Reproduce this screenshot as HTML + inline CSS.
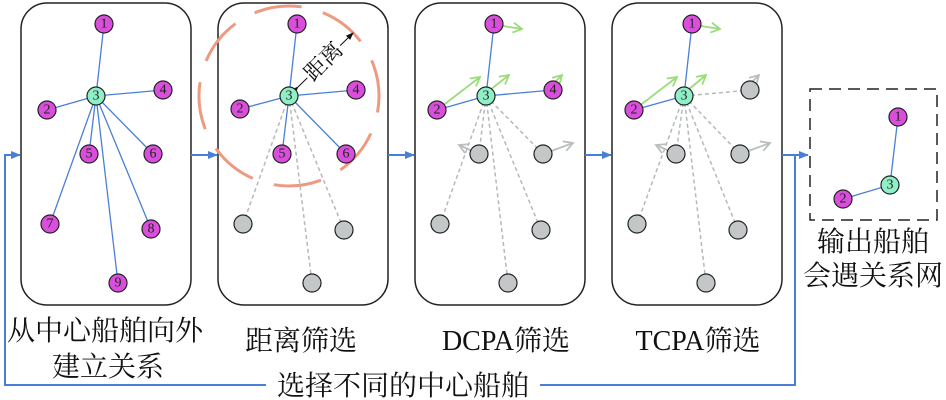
<!DOCTYPE html>
<html><head><meta charset="utf-8"><style>
html,body{margin:0;padding:0;background:#fff;}
svg{display:block;}
text{font-family:"Liberation Serif","Noto Serif CJK SC",serif;}
.n{font-size:14px;text-anchor:middle;dominant-baseline:central;fill:#222;}
.L{font-size:28px;text-anchor:middle;fill:#111;}
</style></head><body>
<svg width="946" height="400" viewBox="0 0 946 400" xmlns="http://www.w3.org/2000/svg">
<defs>
<marker id="ba" markerWidth="10" markerHeight="10" refX="9" refY="5" orient="auto" markerUnits="userSpaceOnUse"><path d="M0,1 L10,5 L0,9 Z" fill="#4a7fd8"/></marker>
<marker id="ga" markerWidth="12" markerHeight="12" refX="10" refY="6" orient="auto" markerUnits="userSpaceOnUse"><path d="M1,1 L10,6 L1,11" fill="none" stroke="#9bdc7a" stroke-width="1.8"/></marker>
<marker id="ya" markerWidth="12" markerHeight="12" refX="10" refY="6" orient="auto" markerUnits="userSpaceOnUse"><path d="M1,1 L10,6 L1,11" fill="none" stroke="#b9bebe" stroke-width="1.8"/></marker>
<marker id="ka" markerWidth="8" markerHeight="8" refX="7" refY="4" orient="auto" markerUnits="userSpaceOnUse"><path d="M0,1 L8,4 L0,7 Z" fill="#111"/></marker>
</defs>

<g fill="none" stroke="#222" stroke-width="1.5">
<rect x="21" y="3" width="170" height="302" rx="26"/>
<rect x="218" y="3" width="170" height="302" rx="26"/>
<rect x="415" y="3" width="170" height="302" rx="26"/>
<rect x="612" y="3" width="170" height="302" rx="26"/>
<rect x="810" y="89" width="127" height="131" stroke-dasharray="12,7"/>
</g>

<g stroke="#4a7fd8" stroke-width="2" fill="none">
<line x1="191" y1="155" x2="217" y2="155" marker-end="url(#ba)"/>
<line x1="388" y1="155" x2="414" y2="155" marker-end="url(#ba)"/>
<line x1="585" y1="155" x2="611" y2="155" marker-end="url(#ba)"/>
<line x1="782" y1="155" x2="808" y2="155" marker-end="url(#ba)"/>
<polyline points="795,155 795,385 5,385 5,155 20,155" marker-end="url(#ba)"/>
</g>

<g stroke="#4a7fd8" stroke-width="1.3">
<line x1="96" y1="96" x2="104" y2="24"/><line x1="96" y1="96" x2="47" y2="110"/>
<line x1="96" y1="96" x2="163" y2="90"/><line x1="96" y1="96" x2="89" y2="154"/>
<line x1="96" y1="96" x2="153" y2="154"/><line x1="96" y1="96" x2="50" y2="224"/>
<line x1="96" y1="96" x2="151" y2="229"/><line x1="96" y1="96" x2="118" y2="283"/>
</g>
<g stroke="#222" stroke-width="1.2" fill="#d94fdc">
<circle cx="104" cy="24" r="9"/><circle cx="47" cy="110" r="9"/><circle cx="163" cy="90" r="9"/>
<circle cx="89" cy="154" r="9"/><circle cx="153" cy="154" r="9"/><circle cx="50" cy="224" r="9"/>
<circle cx="151" cy="229" r="9"/><circle cx="118" cy="283" r="9"/>
<circle cx="96" cy="96" r="9" fill="#8ff0c8"/>
</g>
<text x="104" y="24" class="n">1</text><text x="47" y="110" class="n">2</text><text x="163" y="90" class="n">4</text>
<text x="89" y="154" class="n">5</text><text x="153" y="154" class="n">6</text><text x="50" y="224" class="n">7</text>
<text x="151" y="229" class="n">8</text><text x="118" y="283" class="n">9</text><text x="96" y="96" class="n">3</text>

<circle cx="289" cy="96" r="90" fill="none" stroke="#ec9a80" stroke-width="3" stroke-dasharray="48,22" transform="rotate(-20 289 96)"/>
<g stroke="#b5b9b9" stroke-width="1.5" stroke-dasharray="4,3">
<line x1="289" y1="96" x2="243" y2="224"/><line x1="289" y1="96" x2="344" y2="230"/><line x1="289" y1="96" x2="312" y2="283"/>
</g>
<g stroke="#4a7fd8" stroke-width="1.3">
<line x1="289" y1="96" x2="297" y2="24"/><line x1="289" y1="96" x2="240" y2="109"/>
<line x1="289" y1="96" x2="356" y2="90"/><line x1="289" y1="96" x2="282" y2="154"/>
<line x1="289" y1="96" x2="346" y2="154"/>
</g>
<line x1="298" y1="87" x2="353" y2="33" stroke="#111" stroke-width="1" marker-start="url(#ka)" marker-end="url(#ka)"/>
<g stroke="#222" stroke-width="1.2" fill="#d94fdc">
<circle cx="297" cy="24" r="9"/><circle cx="240" cy="109" r="9"/><circle cx="356" cy="90" r="9"/>
<circle cx="282" cy="154" r="9"/><circle cx="346" cy="154" r="9"/>
<circle cx="243" cy="224" r="9" fill="#c3c7c7"/><circle cx="344" cy="230" r="9" fill="#c3c7c7"/><circle cx="312" cy="283" r="9" fill="#c3c7c7"/>
<circle cx="289" cy="96" r="9" fill="#8ff0c8"/>
</g>
<rect x="300" y="50" width="46" height="22" fill="#fff" transform="rotate(-45 323 61)"/>
<text x="323" y="69" font-size="22" text-anchor="middle" transform="rotate(-45 323 61)" fill="#111">距离</text>
<text x="297" y="24" class="n">1</text><text x="240" y="109" class="n">2</text><text x="356" y="90" class="n">4</text>
<text x="282" y="154" class="n">5</text><text x="346" y="154" class="n">6</text><text x="289" y="96" class="n">3</text>

<g stroke="#b5b9b9" stroke-width="1.5" stroke-dasharray="4,3">
<line x1="486" y1="96" x2="479" y2="154"/><line x1="486" y1="96" x2="543" y2="154"/>
<line x1="486" y1="96" x2="440" y2="224"/><line x1="486" y1="96" x2="541" y2="230"/><line x1="486" y1="96" x2="508" y2="283"/>
</g>
<g stroke="#4a7fd8" stroke-width="1.3">
<line x1="486" y1="96" x2="494" y2="24"/><line x1="486" y1="96" x2="437" y2="110"/><line x1="486" y1="96" x2="553" y2="90"/>
</g>
<g stroke="#9bdc7a" stroke-width="1.8" fill="none">
<line x1="437" y1="110" x2="480" y2="77" marker-end="url(#ga)"/>
<line x1="490" y1="90" x2="509" y2="75" marker-end="url(#ga)"/>
<line x1="553" y1="84" x2="562" y2="75" marker-end="url(#ga)"/>
<line x1="503" y1="26" x2="522" y2="29" marker-end="url(#ga)"/>
</g>
<g stroke="#b9bebe" stroke-width="1.8" fill="none">
<line x1="479" y1="154" x2="459" y2="145" marker-end="url(#ya)"/>
<line x1="543" y1="154" x2="573" y2="143" marker-end="url(#ya)"/>
</g>
<g stroke="#222" stroke-width="1.2" fill="#c3c7c7">
<circle cx="479" cy="154" r="9"/><circle cx="543" cy="154" r="9"/><circle cx="440" cy="224" r="9"/>
<circle cx="541" cy="230" r="9"/><circle cx="508" cy="283" r="9"/>
<circle cx="494" cy="24" r="9" fill="#d94fdc"/><circle cx="437" cy="110" r="9" fill="#d94fdc"/><circle cx="553" cy="90" r="9" fill="#d94fdc"/>
<circle cx="486" cy="96" r="9" fill="#8ff0c8"/>
</g>
<text x="494" y="24" class="n">1</text><text x="437" y="110" class="n">2</text><text x="553" y="90" class="n">4</text><text x="486" y="96" class="n">3</text>

<g stroke="#b5b9b9" stroke-width="1.5" stroke-dasharray="4,3">
<line x1="684" y1="96" x2="750" y2="90"/>
<line x1="684" y1="96" x2="676" y2="154"/><line x1="684" y1="96" x2="740" y2="154"/>
<line x1="684" y1="96" x2="637" y2="224"/><line x1="684" y1="96" x2="738" y2="230"/><line x1="684" y1="96" x2="706" y2="283"/>
</g>
<g stroke="#4a7fd8" stroke-width="1.3">
<line x1="684" y1="96" x2="692" y2="24"/><line x1="684" y1="96" x2="634" y2="110"/>
</g>
<g stroke="#9bdc7a" stroke-width="1.8" fill="none">
<line x1="634" y1="110" x2="677" y2="77" marker-end="url(#ga)"/>
<line x1="688" y1="90" x2="706" y2="75" marker-end="url(#ga)"/>
<line x1="701" y1="26" x2="720" y2="29" marker-end="url(#ga)"/>
</g>
<g stroke="#b9bebe" stroke-width="1.8" fill="none">
<line x1="750" y1="84" x2="759" y2="75" marker-end="url(#ya)"/>
<line x1="676" y1="154" x2="656" y2="145" marker-end="url(#ya)"/>
<line x1="740" y1="154" x2="770" y2="143" marker-end="url(#ya)"/>
</g>
<g stroke="#222" stroke-width="1.2" fill="#c3c7c7">
<circle cx="750" cy="90" r="9"/><circle cx="676" cy="154" r="9"/><circle cx="740" cy="154" r="9"/>
<circle cx="637" cy="224" r="9"/><circle cx="738" cy="230" r="9"/><circle cx="706" cy="283" r="9"/>
<circle cx="692" cy="24" r="9" fill="#d94fdc"/><circle cx="634" cy="110" r="9" fill="#d94fdc"/>
<circle cx="684" cy="96" r="9" fill="#8ff0c8"/>
</g>
<text x="692" y="24" class="n">1</text><text x="634" y="110" class="n">2</text><text x="684" y="96" class="n">3</text>

<g stroke="#4a7fd8" stroke-width="1.3">
<line x1="890" y1="185" x2="898" y2="117"/><line x1="890" y1="185" x2="843" y2="199"/>
</g>
<g stroke="#222" stroke-width="1.2" fill="#d94fdc">
<circle cx="898" cy="117" r="9"/><circle cx="843" cy="199" r="9"/><circle cx="890" cy="185" r="9" fill="#8ff0c8"/>
</g>
<text x="898" y="117" class="n">1</text><text x="843" y="199" class="n">2</text><text x="890" y="185" class="n">3</text>

<text x="105" y="340" class="L">从中心船舶向外</text>
<text x="108" y="376" class="L">建立关系</text>
<text x="301" y="350" class="L">距离筛选</text>
<text x="506" y="350" class="L">DCPA筛选</text>
<text x="698" y="350" class="L">TCPA筛选</text>
<text x="873" y="251" class="L">输出船舶</text>
<text x="873" y="285" class="L">会遇关系网</text>
<rect x="266" y="372" width="274" height="28" fill="#fff"/>
<text x="403" y="395" class="L">选择不同的中心船舶</text>
</svg>
</body></html>
